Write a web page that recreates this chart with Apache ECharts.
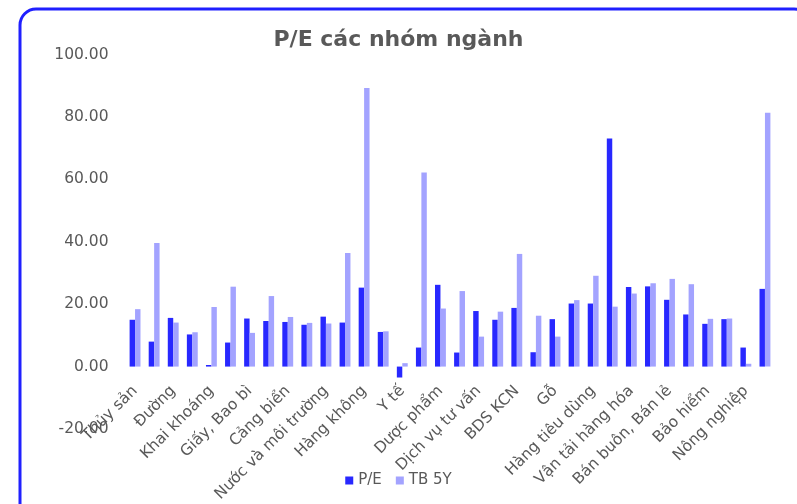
<!DOCTYPE html>
<html><head><meta charset="utf-8">
<script src="https://cdn.jsdelivr.net/npm/echarts@6/dist/echarts.min.js"></script>
<style>html,body{margin:0;padding:0;background:#fff}#c{width:797px;height:504px}</style>
</head><body><div id="c"></div>
<script>
const categories = ["Thủy sản","Dệt may","Đường","Phân bón","Khai khoáng","Nhựa","Giấy, Bao bì","Thép","Cảng biển","Vận tải biển","Nước và môi trường","Điện","Hàng không","Xây dựng","Y tế","Hóa chất","Dược phẩm","Bất động sản","Dịch vụ tư vấn","Ngân hàng","BDS KCN","Chứng khoán","Gỗ","Bán lẻ","Hàng tiêu dùng","Dầu khí","Vận tải hàng hóa","Công nghệ","Bán buôn, Bán lẻ","Cao su","Bảo hiểm","Vật liệu xây dựng","Nông nghiệp","Khác"];
const pe   = [15.0,8.0,15.6,10.3,0.5,7.7,15.4,14.6,14.3,13.4,16.0,14.1,25.3,11.1,-3.5,6.1,26.2,4.5,17.8,15.0,18.8,4.6,15.2,20.2,20.2,73.1,25.5,25.7,21.4,16.7,13.7,15.2,6.1,24.9];
const tb5y = [18.4,39.6,14.1,11.0,19.1,25.6,10.8,22.6,15.9,14.0,13.8,36.4,89.3,11.3,1.1,62.2,18.6,24.2,9.6,17.6,36.1,16.3,9.6,21.3,29.1,19.2,23.4,26.7,28.1,26.4,15.3,15.4,0.9,81.3];
const yTicks = {min:-20, max:100, interval:20};

const chart = echarts.init(document.getElementById('c'));
const font = '"DejaVu Sans", Verdana, sans-serif';
chart.setOption({
  animation:false,
  title:{text:'P/E các nhóm ngành', left:'center', top:24, textStyle:{fontFamily:font, fontSize:22, fontWeight:'bold', color:'#595959'}},
  legend:{bottom:11, left:'center', itemWidth:8, itemHeight:8, itemGap:14, icon:'rect',
    textStyle:{fontFamily:font, fontSize:15, color:'#595959'}, data:['P/E','TB 5Y']},
  grid:{left:125.5, right:22.5, top:54.5, bottom:75, containLabel:false, outerBoundsMode:'none'},
  xAxis:{type:'category', data:categories, offset:-62.5,
    axisLine:{show:false, onZero:false}, axisTick:{show:false},
    axisLabel:{interval:1, rotate:45, margin:22, hideOverlap:false, fontFamily:font, fontSize:15.5, color:'#595959'}},
  yAxis:{type:'value', min:yTicks.min, max:yTicks.max, interval:yTicks.interval,
    splitLine:{show:false}, axisLine:{show:false}, axisTick:{show:false},
    axisLabel:{margin:17, fontFamily:font, fontSize:15.5, color:'#595959', formatter:v=>v.toFixed(2)}},
  series:[
    {name:'P/E', type:'bar', data:pe, barGap:'0%', barCategoryGap:'43%', itemStyle:{color:'#2828ff'}},
    {name:'TB 5Y', type:'bar', data:tb5y, barGap:'0%', barCategoryGap:'43%', itemStyle:{color:'#a3a3ff'}}
  ],
  graphic:[{type:'rect', shape:{x:20, y:9, width:790, height:510, r:16}, style:{fill:null, stroke:'#2020ff', lineWidth:3}, z:100}]
});
</script></body></html>
